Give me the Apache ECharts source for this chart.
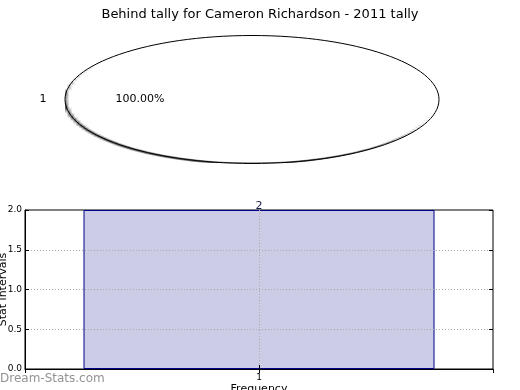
<!DOCTYPE html>
<html><head><meta charset="utf-8">
<script src="https://cdn.jsdelivr.net/npm/echarts@6/dist/echarts.min.js"></script>
<style>
html,body{margin:0;padding:0;background:#fff;}
#wrap{position:relative;width:520px;height:390px;overflow:hidden;}
#main{position:absolute;left:0;top:0;width:520px;height:390px;}
#pie{position:absolute;left:188px;top:35px;width:128px;height:128px;transform:scaleX(2.922);transform-origin:50% 50%;}
</style></head>
<body><div id="wrap"><div id="pie"></div><div id="main"></div></div>
<script>
var titleText = 'Behind tally for Cameron Richardson - 2011 tally';
var pieLabels = ['1'];
var pieValues = [1];
var barCategories = ['1'];
var barValues = [2];
var yTicks = [0, 0.5, 1.0, 1.5, 2.0];

var total = pieValues.reduce(function(a,b){return a+b;},0);
var pctText = (pieValues[0]/total*100).toFixed(2) + '%';

var font = 'DejaVu Sans';

var pie = echarts.init(document.getElementById('pie'), null, {renderer:'canvas'});
pie.setOption({
  animation:false,
  series:[{
    type:'pie',center:['50%','50%'],radius:[0,63.5],startAngle:0,clockwise:false,
    data:pieLabels.map(function(n,i){return {name:n,value:pieValues[i]};}),
    label:{show:false},labelLine:{show:false},
    emphasis:{disabled:true},
    itemStyle:{color:'#fff',borderWidth:0,
      shadowColor:'rgba(0,0,0,0.6)',shadowBlur:0.6,shadowOffsetX:-0.9,shadowOffsetY:2}
  }]
});

var main = echarts.init(document.getElementById('main'), null, {renderer:'canvas'});
var dotted = {color:'#aaa',type:[1,2],width:1};
main.setOption({
  animation:false,
  textStyle:{fontFamily:font},
  title:{text:titleText,left:'center',top:3,textStyle:{fontFamily:font,fontSize:13,fontWeight:'normal',color:'#000'}},
  graphic:[
    {type:'ellipse',shape:{cx:252,cy:99.5,rx:187,ry:64},style:{fill:null,stroke:'#000',lineWidth:1},z:50},
    {type:'text',left:0,top:373,style:{text:'Dream-Stats.com',fontFamily:font,fontSize:12,fontWeight:'normal',fill:'#939393'}},
    {type:'text',x:43,y:99,style:{text:pieLabels[0],fontFamily:font,fontSize:11,fill:'#000',align:'center',verticalAlign:'middle'},z:100},
    {type:'text',x:140,y:99,style:{text:pctText,fontFamily:font,fontSize:11,fill:'#000',align:'center',verticalAlign:'middle'},z:100}
  ],
  grid:{left:25,right:27,top:210,bottom:21,containLabel:false,outerBoundsMode:'none',show:true,borderColor:'#000',borderWidth:1,backgroundColor:'transparent'},
  xAxis:[
    {type:'category',data:barCategories,boundaryGap:true,position:'bottom',z:5,
     axisLine:{show:true,lineStyle:{color:'#000'}},
     axisTick:{show:true,inside:true,alignWithLabel:true,length:4,lineStyle:{color:'#000'}},
     axisLabel:{fontSize:9,color:'#000',margin:4,fontFamily:font},
     splitLine:{show:false},
     name:'Frequency',nameLocation:'middle',nameGap:15,nameMoveOverlap:false,nameTextStyle:{fontSize:11,color:'#000',fontFamily:font}},
    {type:'value',min:0,max:2,interval:1,position:'top',z:5,
     axisLine:{show:false},axisLabel:{show:false},
     axisTick:{show:true,inside:true,length:4,lineStyle:{color:'#000'}},
     splitLine:{show:true,showMinLine:false,showMaxLine:false,lineStyle:dotted}}
  ],
  yAxis:[
    {type:'value',min:yTicks[0],max:yTicks[yTicks.length-1],interval:0.5,position:'left',z:5,
     axisLine:{show:true,lineStyle:{color:'#000'}},
     axisTick:{show:true,inside:true,length:4,lineStyle:{color:'#000'}},
     axisLabel:{fontSize:9,color:'#000',margin:3,fontFamily:font,formatter:function(v){return v.toFixed(1);}},
     splitLine:{show:true,showMinLine:false,showMaxLine:false,lineStyle:dotted},
     name:'Stat intervals',nameLocation:'middle',nameGap:22,nameRotate:90,nameMoveOverlap:false,nameTextStyle:{fontSize:11,color:'#000',fontFamily:font,verticalAlign:'middle'}},
    {type:'value',min:yTicks[0],max:yTicks[yTicks.length-1],interval:0.5,position:'right',z:5,
     axisLine:{show:false},axisLabel:{show:false},splitLine:{show:false},
     axisTick:{show:true,inside:true,length:4,lineStyle:{color:'#000'}}}
  ],
  series:[{
    type:'bar',data:barValues,xAxisIndex:0,yAxisIndex:0,barCategoryGap:'25%',z:2,
    itemStyle:{color:'#ccccE6',borderColor:'#00008b',borderWidth:1},
    label:{show:true,position:'top',distance:-2,fontSize:11,color:'#1a1a4a',fontFamily:font}
  }]
});
</script></body></html>
